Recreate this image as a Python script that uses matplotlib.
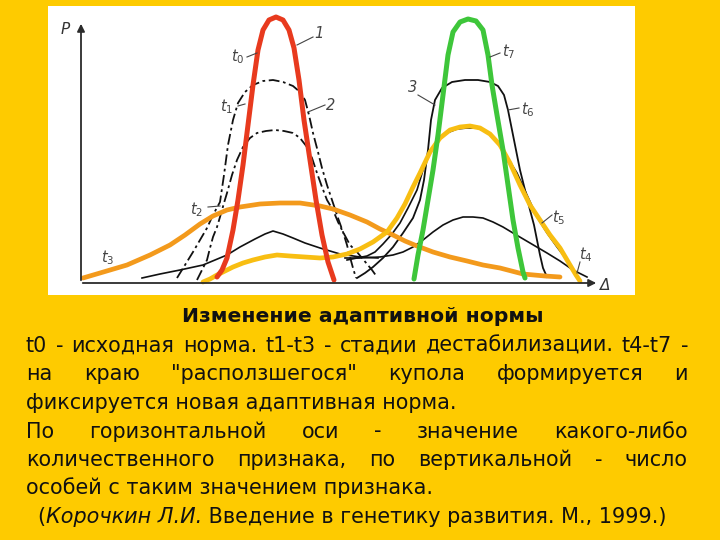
import matplotlib.pyplot as plt

plt.rcParams['font.family'] = ['DejaVu Sans']

BG = '#FECB00'

# curves: x = trait value (Δ), y = number of individuals (P)
red_x = [136, 141, 146, 152, 157, 162, 167, 172, 177, 182, 188, 195, 202, 208, 213, 218, 223, 229, 235, 241, 247, 253]
red_y = [6, 13, 25, 53, 83, 118, 158, 198, 233, 253, 263, 266, 263, 253, 235, 203, 163, 123, 83, 48, 21, 3]

green_x = [333, 337, 342, 347, 352, 357, 362, 367, 372, 379, 387, 395, 402, 407, 411, 416, 422, 427, 432, 437, 442, 444]
green_y = [4, 28, 53, 83, 113, 148, 188, 228, 251, 261, 264, 262, 253, 228, 198, 168, 133, 98, 63, 35, 11, 5]

yellow_x = [122, 129, 136, 144, 152, 162, 172, 184, 196, 209, 224, 239, 252, 266, 279, 292, 306, 316, 324,
            332, 339, 349, 359, 369, 379, 389, 399, 409, 419, 429, 439, 449, 459, 469, 479, 489, 495, 499]
yellow_y = [1, 4, 8, 12, 16, 20, 23, 26, 28, 27, 26, 25, 26, 29, 34, 41, 51, 65, 79,
            96, 110, 131, 145, 153, 156, 157, 155, 149, 138, 120, 98, 78, 63, 48, 35, 18, 8, 2]

orange_x = [2, 19, 46, 69, 89, 104, 119, 132, 146, 159, 179, 199, 219, 239, 252, 269, 286, 299, 312,
            324, 336, 352, 369, 386, 402, 419, 442, 464, 479]
orange_y = [5, 10, 18, 28, 38, 48, 59, 67, 73, 76, 79, 80, 80, 77, 74, 68, 61, 54, 48,
            42, 37, 31, 26, 22, 18, 15, 9, 7, 6]

t3_x = [61, 79, 99, 122, 134, 146, 159, 174, 184, 192, 202, 212, 224, 239, 259, 279, 297]
t3_y = [5, 9, 13, 18, 23, 28, 36, 44, 49, 52, 49, 45, 40, 35, 29, 26, 25]

t4_x = [264, 279, 299, 312, 322, 332, 342, 352, 362, 372, 382, 392, 402, 412, 422, 432, 449, 466, 479, 492, 506]
t4_y = [25, 25, 26, 28, 31, 36, 43, 51, 58, 63, 66, 66, 65, 61, 56, 50, 40, 30, 22, 13, 6]

t6_x = [276, 284, 292, 302, 312, 322, 332, 339, 343, 347, 350, 354, 361, 371, 384, 397, 409, 417, 423,
        427, 431, 435, 439, 444, 449, 453, 456, 459, 462, 466]
t6_y = [5, 10, 16, 25, 36, 50, 65, 83, 103, 133, 163, 183, 195, 201, 203, 203, 201, 197, 188,
        173, 153, 133, 113, 93, 73, 58, 43, 28, 15, 6]

t5_x = [266, 276, 286, 294, 302, 311, 319, 327, 336, 342, 349, 356, 366, 376, 386, 396, 406, 416, 426,
        436, 446, 456, 466, 476, 486, 496]
t5_y = [23, 25, 27, 31, 39, 49, 60, 75, 93, 113, 131, 143, 150, 154, 155, 155, 151, 141, 126,
        110, 88, 66, 50, 36, 23, 6]

t1_x = [96, 104, 112, 119, 126, 132, 139, 143, 147, 152, 157, 164, 172, 182, 192, 202, 212, 219, 224,
        228, 232, 237, 241, 246, 252, 257, 262, 266, 269, 272, 275]
t1_y = [5, 18, 31, 43, 55, 68, 81, 108, 138, 163, 180, 191, 198, 202, 203, 201, 197, 191, 183,
        168, 150, 131, 115, 98, 80, 65, 51, 38, 26, 15, 5]

t2_x = [116, 121, 126, 129, 132, 136, 139, 143, 146, 151, 156, 162, 169, 176, 185, 194, 203, 212, 219,
        226, 231, 236, 241, 246, 252, 257, 262, 269, 276, 281, 286, 291, 296]
t2_y = [3, 13, 23, 35, 46, 56, 66, 80, 90, 108, 123, 136, 145, 150, 152, 153, 152, 150, 145,
        136, 125, 110, 96, 83, 73, 61, 51, 38, 31, 25, 19, 13, 6]

caption_title = 'Изменение адаптивной нормы'
caption_lines = [
    ('t0 - исходная норма. t1-t3 - стадии дестабилизации. t4-t7 -', 'justify'),
    ('на краю "расползшегося" купола формируется и', 'justify'),
    ('фиксируется новая адаптивная норма.', 'left'),
    ('По горизонтальной оси - значение какого-либо', 'justify'),
    ('количественного признака, по вертикальной - число', 'justify'),
    ('особей с таким значением признака.', 'left'),
]
ref_author = 'Корочкин Л.И.'
ref_rest = ' Введение в генетику развития. М., 1999.)'

fig = plt.figure(figsize=(7.2, 5.4), dpi=100, facecolor=BG)

# text layer in pixel units
tax = fig.add_axes([0, 0, 1, 1])
tax.set_xlim(0, 720)
tax.set_ylim(540, 0)
tax.set_axis_off()

# white panel with the graph
ax = fig.add_axes([48 / 720, (540 - 295) / 540, 587 / 720, 289 / 540])
ax.set_xlim(-33, 554)
ax.set_ylim(-12, 277)
ax.set_facecolor('white')
ax.set_xticks([])
ax.set_yticks([])
for s in ax.spines.values():
    s.set_visible(False)

axc = '#2b2b2b'
ax.annotate('', xy=(0, 262), xytext=(0, 0),
            arrowprops=dict(arrowstyle='-|>', color=axc, lw=1.3, mutation_scale=11))
ax.annotate('', xy=(518, 0), xytext=(-1, 0),
            arrowprops=dict(arrowstyle='-|>', color=axc, lw=1.3, mutation_scale=11))
ax.text(-16, 254, 'P', fontsize=11, style='italic', color='#333', ha='center', va='center')
ax.text(524, -2, 'Δ', fontsize=11, style='italic', color='#333', ha='center', va='center')

# black original curves
blk = '#111111'
ax.plot(t3_x, t3_y, color=blk, lw=1.2)
ax.plot(t4_x, t4_y, color=blk, lw=1.2)
ax.plot(t6_x, t6_y, color=blk, lw=1.3)
ax.plot(t5_x, t5_y, color=blk, lw=1.2)
ax.plot(t1_x, t1_y, color=blk, lw=1.3, linestyle=(0, (6, 2, 1.5, 2)))
ax.plot(t2_x, t2_y, color=blk, lw=1.3, linestyle=(0, (6, 2, 1.5, 2)))

# coloured highlights
ax.plot(orange_x, orange_y, color='#F39A1C', lw=3.4, solid_capstyle='round')
ax.plot(yellow_x, yellow_y, color='#F8BE12', lw=3.4, solid_capstyle='round')
ax.plot(red_x, red_y, color='#E83A1E', lw=3.6, solid_capstyle='round')
ax.plot(green_x, green_y, color='#3EC63A', lw=3.6, solid_capstyle='round')

# curve labels with leaders
lc = '#444444'
labels = [
    (r'$t_0$', 157, 226, [(166, 176), (226, 230)]),
    ('1', 238, 250, [(232, 216), (246, 238)]),
    (r'$t_1$', 146, 176, [(157, 164), (177, 179)]),
    ('2', 250, 178, [(244, 227), (178, 171)]),
    (r'$t_2$', 116, 73, [(127, 139), (76, 77)]),
    (r'$t_3$', 27, 25, None),
    (r'$t_7$', 428, 231, [(419, 409), (230, 226)]),
    ('3', 332, 196, [(337, 354), (188, 178)]),
    (r'$t_6$', 447, 173, [(438, 427), (175, 173)]),
    (r'$t_5$', 478, 65, [(471, 461), (68, 60)]),
    (r'$t_4$', 505, 28, [(499, 496), (21, 10)]),
]
for txt, lx, ly, leader in labels:
    ax.text(lx, ly, txt, fontsize=10.5, style='italic', color=lc, ha='center', va='center')
    if leader:
        ax.plot(leader[0], leader[1], color=lc, lw=0.8)

# caption text
fig.canvas.draw()
rend = fig.canvas.get_renderer()
X0, X1 = 26, 688


def fit_size(text, target, **kw):
    t = tax.text(0, 0, text, fontsize=14, **kw)
    w = t.get_window_extent(rend).width
    t.remove()
    return 14 * target / w


fs = fit_size(caption_lines[2][0], 432)
fs_title = fit_size(caption_title, 361, fontweight='bold')

tax.text(362.5, 322, caption_title, fontsize=fs_title, fontweight='bold', ha='center',
         va='baseline', color='#111')

baselines = [352, 380.5, 409, 437.5, 466, 494.5]
for (line, mode), yb in zip(caption_lines, baselines):
    if mode == 'left':
        tax.text(X0, yb, line, fontsize=fs, ha='left', va='baseline', color='#111')
        continue
    words = line.split()
    items = [tax.text(0, yb, w, fontsize=fs, ha='left', va='baseline', color='#111') for w in words]
    widths = [t.get_window_extent(rend).width for t in items]
    gap = (X1 - X0 - sum(widths)) / (len(words) - 1)
    x = X0
    for t, w in zip(items, widths):
        t.set_x(x)
        x += w + gap

parts = [('(', 'normal'), (ref_author, 'italic'), (ref_rest, 'normal')]
items = [tax.text(0, 523, p, fontsize=fs, style=st, ha='left', va='baseline', color='#111')
         for p, st in parts]
widths = [t.get_window_extent(rend).width for t in items]
x = 352 - sum(widths) / 2
for t, w in zip(items, widths):
    t.set_x(x)
    x += w

fig.savefig('out.png', dpi=100, facecolor=BG)
